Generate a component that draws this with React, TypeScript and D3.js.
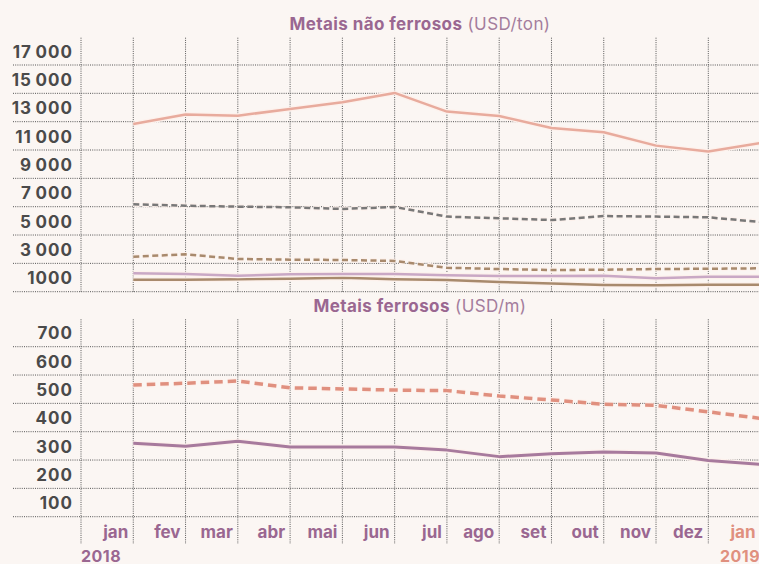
import React from "react";
import * as d3 from "d3";

const months = ["jan", "fev", "mar", "abr", "mai", "jun", "jul", "ago", "set", "out", "nov", "dez", "jan"];
const years = ["2018", "2019"];
const topTicks = [1000, 3000, 5000, 7000, 9000, 11000, 13000, 15000, 17000];
const bottomTicks = [100, 200, 300, 400, 500, 600, 700];

const nickel = [12840, 13500, 13420, 13900, 14370, 15030, 13710, 13400, 12560, 12250, 11310, 10900, 11490];
const copper = [7170, 7070, 7000, 6960, 6840, 6980, 6300, 6180, 6060, 6340, 6300, 6250, 5920];
const zinc = [3470, 3640, 3310, 3260, 3240, 3170, 2690, 2600, 2530, 2550, 2600, 2620, 2650];
const aluminum = [2300, 2250, 2130, 2230, 2250, 2250, 2160, 2110, 2110, 2130, 1950, 2060, 2060];
const lead = [1850, 1850, 1875, 1920, 1990, 1875, 1830, 1690, 1570, 1470, 1450, 1490, 1490];

const ferrousDashed = [565, 571, 579, 555, 551, 547, 545, 526, 512, 497, 493, 470, 447];
const ferrousSolid = [359, 349, 366, 346, 346, 346, 335, 312, 322, 328, 325, 298, 285];

const W = 759;
const H = 564;
const FONT = "Inter, Lato, 'Noto Sans', sans-serif";
const BG = "#fbf6f3";
const PURPLE = "#9a6791";
const SALMON = "#e0907f";

const fmt = (v: number) => {
  const s = String(v);
  if (v >= 2000) {
    return s.slice(0, s.length - 3) + "\u2009" + s.slice(-3);
  }
  return s;
};

export default function App() {
  const x = d3.scaleLinear().domain([0, 12]).range([81, 708.3]);
  const yTop = d3.scaleLinear().domain([1000, 17000]).range([291.7, 65]);
  const yBot = d3.scaleLinear().domain([100, 700]).range([516.7, 346.7]);

  const lineTop = d3
    .line<number>()
    .x((_, i) => x(i + 1))
    .y((d) => yTop(d));
  const lineBot = d3
    .line<number>()
    .x((_, i) => x(i + 1))
    .y((d) => yBot(d));

  const gridIdx = d3.range(0, 13);

  const topSeries = [
    { data: lead, color: "#a88a6d", dash: undefined, w: 2.5 },
    { data: aluminum, color: "#c9a8c5", dash: undefined, w: 2.5 },
    { data: zinc, color: "#a88a6d", dash: "6 3.5", w: 2.5 },
    { data: copper, color: "#787878", dash: "6 3.5", w: 2.5 },
    { data: nickel, color: "#e8ab9d", dash: undefined, w: 2.5 },
  ];
  const botSeries = [
    { data: ferrousDashed, color: "#e0907f", dash: "8.5 5", w: 3.5 },
    { data: ferrousSolid, color: "#a77a9d", dash: undefined, w: 3 },
  ];

  const gridColor = "#555";

  return (
    <svg
      width={W}
      height={H}
      style={{ position: "absolute", left: 0, top: 0, background: BG }}
      fontFamily={FONT}
    >
      <rect x={0} y={0} width={W} height={H} fill={BG} />

      {/* Titles */}
      <text x={420} y={30} textAnchor="middle" fontSize={17} fill={PURPLE} letterSpacing={0.4}>
        <tspan fontWeight={700}>Metais não ferrosos</tspan>
        <tspan fontWeight={400} fill="#a47d9d"> (USD/ton)</tspan>
      </text>
      <text x={420} y={311.5} textAnchor="middle" fontSize={17} fill={PURPLE} letterSpacing={0.4}>
        <tspan fontWeight={700}>Metais ferrosos</tspan>
        <tspan fontWeight={400} fill="#a47d9d"> (USD/m)</tspan>
      </text>

      {/* Top grid */}
      <g stroke={gridColor} strokeWidth={1} strokeDasharray="1 1.2" fill="none">
        {gridIdx.map((k) => (
          <line key={"tv" + k} x1={x(k)} x2={x(k)} y1={37.7} y2={yTop(1000)} />
        ))}
        {topTicks.map((t) => (
          <line key={"th" + t} x1={13} x2={W} y1={yTop(t)} y2={yTop(t)} />
        ))}
      </g>
      {topTicks.map((t) => (
        <text
          key={"tl" + t}
          x={73}
          y={yTop(t) - 7.5}
          textAnchor="end"
          fontSize={17}
          fontWeight={700}
          fill="#4a4a4a"
          letterSpacing={1}
        >
          {fmt(t)}
        </text>
      ))}

      {/* Bottom grid */}
      <g stroke={gridColor} strokeWidth={1} strokeDasharray="1 1.2" fill="none">
        {gridIdx.map((k) => (
          <line key={"bv" + k} x1={x(k)} x2={x(k)} y1={319.3} y2={544} />
        ))}
        {bottomTicks.map((t) => (
          <line key={"bh" + t} x1={13} x2={W} y1={yBot(t)} y2={yBot(t)} />
        ))}
      </g>
      {bottomTicks.map((t) => (
        <text
          key={"bl" + t}
          x={73}
          y={yBot(t) - 7.5}
          textAnchor="end"
          fontSize={17}
          fontWeight={700}
          fill="#4a4a4a"
          letterSpacing={1}
        >
          {t}
        </text>
      ))}

      {/* Top lines */}
      {topSeries.map((s, i) => (
        <g key={"ts" + i} fill="none" strokeLinejoin="round">
          <path d={lineTop(s.data) || ""} stroke="#fdf1ec" strokeWidth={s.w + 2.5} strokeDasharray={s.dash} />
          <path d={lineTop(s.data) || ""} stroke={s.color} strokeWidth={s.w} strokeDasharray={s.dash} />
        </g>
      ))}

      {/* Bottom lines */}
      {botSeries.map((s, i) => (
        <g key={"bs" + i} fill="none" strokeLinejoin="round">
          <path d={lineBot(s.data) || ""} stroke="#fdf1ec" strokeWidth={s.w + 2.5} strokeDasharray={s.dash} />
          <path d={lineBot(s.data) || ""} stroke={s.color} strokeWidth={s.w} strokeDasharray={s.dash} />
        </g>
      ))}

      {/* Month labels */}
      {months.map((m, i) => (
        <text
          key={"m" + i}
          x={x(i + 1) - 5}
          y={538}
          textAnchor="end"
          fontSize={17}
          fontWeight={700}
          fill={i === 12 ? SALMON : PURPLE}
        >
          {m}
        </text>
      ))}
      <text x={81} y={562} fontSize={16} fontWeight={700} fill={PURPLE} letterSpacing={0.5}>
        {years[0]}
      </text>
      <text x={720} y={562} fontSize={16} fontWeight={700} fill={SALMON} letterSpacing={0.5}>
        {years[1]}
      </text>
    </svg>
  );
}
